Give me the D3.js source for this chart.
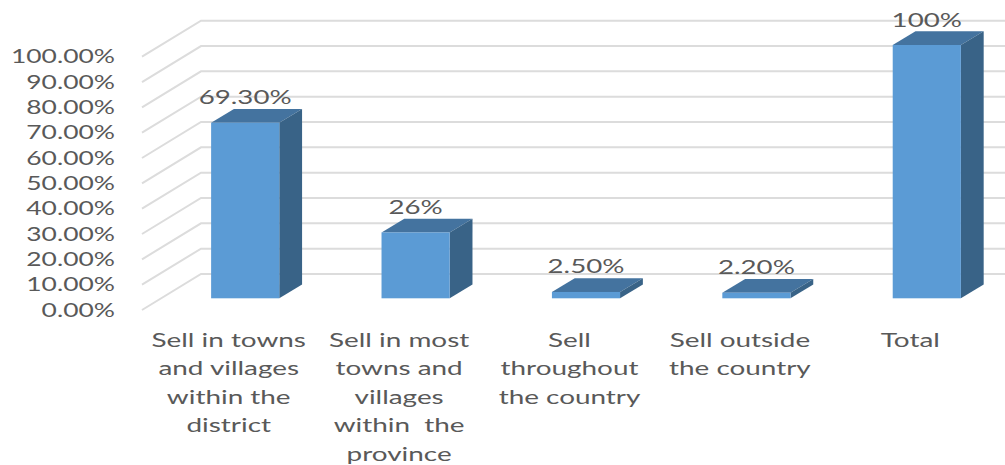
<!DOCTYPE html>
<html>
<head>
<meta charset="utf-8">
<script src="https://cdn.jsdelivr.net/npm/d3@7"></script>
<style>
  html, body { margin: 0; padding: 0; background: #fff; }
  svg { display: block; }
  text { font-family: Lato, sans-serif; fill: #595959; }
</style>
</head>
<body>
<svg id="chart" width="1005" height="465"></svg>
<script>
const categories = ["Sell in towns and villages within the district", "Sell in most towns and villages within the province", "Sell throughout the country", "Sell outside the country", "Total"];
const shares = [69.3, 26, 2.5, 2.2, 100];
const valueLabels = ["69.30%", "26%", "2.50%", "2.20%", "100%"];
const tickValues = [0, 10, 20, 30, 40, 50, 60, 70, 80, 90, 100];
const wrappedCategories = [
  ["Sell in towns", "and villages", "within the", "district"],
  ["Sell in most", "towns and", "villages", "within  the", "province"],
  ["Sell", "throughout", "the country"],
  ["Sell outside", "the country"],
  ["Total"]
];

const svg = d3.select("#chart");

// Floor plane of the 3D frame: the wall sits behind and to the right of the front edge.
const front = { left: 142, bottom: 310 };
const wall = { left: 201, right: 1005, bottom: 274, top: 20.7 };
const y = d3.scaleLinear().domain([0, 100]).range([wall.bottom, wall.top]);
const shiftY = front.bottom - wall.bottom;

const x = d3.scaleBand().domain(d3.range(categories.length)).range([160, 1012]).paddingInner(0.6).paddingOuter(0.3);
const barBaseDrop = 298.3 - wall.bottom;
const depth = { dx: 22.8, dy: 13.7 };

// Gridlines: the horizontal wall line plus its slanted run along the side.
const grid = svg.append("g").attr("fill", "none").attr("stroke", "#dcdcdc").attr("stroke-width", 2);
grid.selectAll("path").data(tickValues).join("path")
  .attr("d", d => `M${front.left},${y(d) + shiftY}L${wall.left},${y(d)}L${wall.right},${y(d)}`);

// The chart's lettering is wider than the face's natural proportions, so each label is stretched horizontally.
const stretchText = (sel, k) => sel.each(function () {
  const ax = +this.getAttribute("data-x"), ay = +this.getAttribute("data-y");
  this.setAttribute("transform", `translate(${ax},${ay}) scale(${k},1)`);
});

svg.append("g").selectAll("text").data(tickValues).join("text")
  .attr("font-size", 19.5)
  .attr("text-anchor", "end")
  .attr("data-x", 115)
  .attr("data-y", d => y(d) + shiftY + 6.5)
  .text(d => d.toFixed(2) + "%")
  .call(stretchText, 1.355);

// Bars: top and side faces first, then the front face.
const bars = svg.append("g").selectAll("g").data(shares).join("g");
const barTop = v => y(v) + barBaseDrop;
const barBase = barTop(0);

bars.append("path").attr("fill", "#44739f")
  .attr("d", (v, i) => {
    const l = x(i), r = l + x.bandwidth(), t = barTop(v);
    return `M${l},${t}L${l + depth.dx},${t - depth.dy}L${r + depth.dx},${t - depth.dy}L${r},${t}Z`;
  });
bars.append("path").attr("fill", "#396387")
  .attr("d", (v, i) => {
    const r = x(i) + x.bandwidth(), t = barTop(v);
    return `M${r},${t}L${r + depth.dx},${t - depth.dy}L${r + depth.dx},${barBase - depth.dy}L${r},${barBase}Z`;
  });
bars.append("rect").attr("fill", "#5b9bd5")
  .attr("x", (v, i) => x(i))
  .attr("y", v => barTop(v))
  .attr("width", x.bandwidth())
  .attr("height", v => barBase - barTop(v));

// Value labels above each bar.
svg.append("g").selectAll("text").data(shares).join("text")
  .attr("font-size", 19.5)
  .attr("text-anchor", "middle")
  .attr("data-x", (v, i) => x(i) + x.bandwidth() / 2)
  .attr("data-y", v => barTop(v) - 18.5)
  .text((v, i) => valueLabels[i])
  .call(stretchText, 1.42);

// Category labels, wrapped by hand over several lines.
const cats = svg.append("g").selectAll("g").data(wrappedCategories).join("g");
cats.selectAll("text").data((lines, i) => lines.map((line, j) => ({ line, i, j }))).join("text")
  .attr("font-size", 19.5)
  .attr("text-anchor", "middle")
  .attr("data-x", d => x(d.i) + x.bandwidth() / 2 - 16.5)
  .attr("data-y", d => 346.8 + d.j * 28.5)
  .attr("xml:space", "preserve")
  .style("white-space", "pre")
  .text(d => d.line)
  .call(stretchText, 1.43);
</script>
</body>
</html>
